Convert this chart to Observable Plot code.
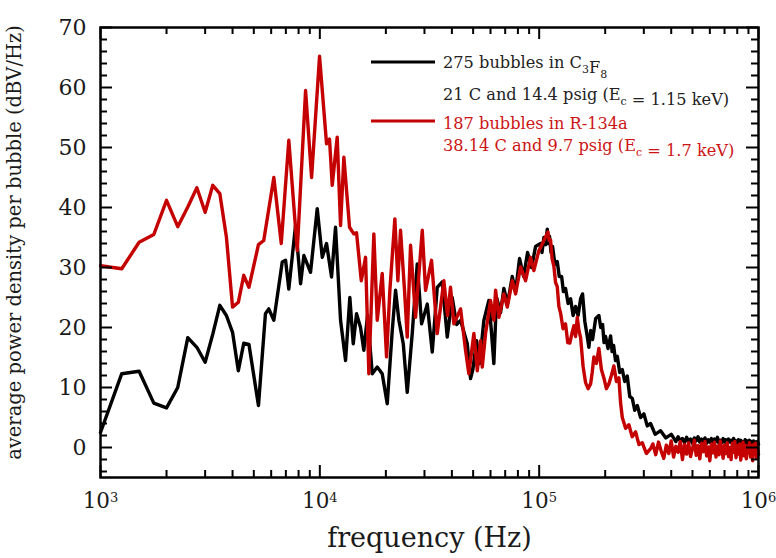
<!DOCTYPE html>
<html>
<head>
<meta charset="utf-8">
<script src="https://cdn.jsdelivr.net/npm/d3@7"></script>
<script src="https://cdn.jsdelivr.net/npm/@observablehq/plot@0.6"></script>
<style>
  html, body { margin: 0; padding: 0; background: #fff; }
  #chart svg { display: block; }
</style>
</head>
<body>
<div id="chart"></div>
<script>
// Average power density per bubble, C3F8 (black)
const c3f8Freq = [
  1000, 1250, 1500, 1750, 2000, 2250, 2500, 2750, 3000, 3250,
  3500, 3750, 4000, 4250, 4500, 4750, 5250, 5650, 5850, 6170,
  6740, 6980, 7220, 7750, 8170, 8460, 9070, 9730, 10260, 10730,
  11310, 11790, 12430, 13100, 13700, 14200, 14700, 15330, 15870, 16500,
  17340, 18270, 19250, 20290, 21390, 22140, 22930, 24010, 25030, 26380,
  27810, 29100, 30890, 32550, 34300, 36150, 38100, 40150, 42020, 43820,
  47000, 48660, 49850, 51830, 53480, 55960, 58970, 60670, 62140, 63930,
  66680, 69040, 71770, 75400, 78060, 81400, 84920, 88540, 92340, 96300,
  101500, 103000, 105100, 107000, 108900, 110200, 111500, 113300, 115100, 118000,
  120900, 123500, 126600, 129000, 131900, 135500, 139100, 142800, 146600, 150500,
  154500, 157700, 161500, 165700, 168500, 171800, 175200, 181000, 187200, 190800,
  194600, 197600, 200800, 206000, 211700, 215000, 218500, 222800, 227100, 233000,
  239300, 245500, 252200, 258800, 265800, 272800, 280200, 290000, 300300, 311000,
  322100, 338000, 357800, 378000, 400000,
  410000, 420000, 430000, 440000, 450000, 460000, 470000, 480000, 490000, 500000,
  510000, 520000, 530000, 540000, 550000, 560000, 570000, 580000, 590000, 600000,
  610000, 620000, 630000, 640000, 650000, 660000, 670000, 680000, 690000, 700000,
  710000, 720000, 730000, 740000, 750000, 760000, 770000, 780000, 790000, 800000,
  810000, 820000, 830000, 840000, 850000, 860000, 870000, 880000, 890000, 900000,
  910000, 920000, 930000, 940000, 950000, 960000, 970000, 980000, 990000, 1000000
];
const c3f8Power = [
  2.5, 12.3, 12.7, 7.4, 6.6, 10.0, 18.3, 16.7, 14.2, 18.9,
  23.7, 22.0, 19.2, 12.8, 17.4, 17.2, 7.0, 22.3, 23.1, 21.2,
  30.9, 31.2, 26.4, 37.0, 27.3, 32.0, 29.2, 39.8, 31.7, 34.0,
  28.4, 36.7, 21.2, 14.5, 25.0, 17.3, 22.3, 20.0, 16.2, 22.0,
  12.3, 13.4, 12.3, 7.3, 19.5, 26.2, 21.2, 17.3, 9.2, 19.0,
  30.6, 20.6, 23.9, 15.9, 26.7, 27.6, 18.4, 25.0, 20.5, 21.2,
  17.3, 11.5, 13.0, 17.8, 14.0, 21.2, 24.5, 19.0, 14.0, 25.0,
  22.5, 26.5, 24.0, 28.5, 26.0, 31.5, 28.5, 32.5, 30.0, 33.5,
  34.0, 32.5, 35.0, 33.8, 36.4, 34.0, 35.2, 32.5, 33.5, 30.5,
  31.0, 28.5, 28.5, 26.0, 26.5, 24.0, 24.8, 22.0, 23.5, 22.0,
  24.8, 25.6, 21.0, 18.5, 16.7, 19.5, 18.0, 21.5, 22.0, 20.0,
  20.5, 17.5, 18.5, 16.5, 18.6, 16.0, 17.0, 14.5, 15.2, 12.5,
  13.0, 11.0, 11.9, 8.5, 8.2, 6.2, 7.0, 5.0, 5.6, 3.6,
  4.0, 2.2, 2.8, 1.6, 2.2,
  1.6, 1.0, 1.8, 1.1, 1.5, 0.8, 1.7, 1.0, 1.4, 0.7,
  1.6, 1.1, 1.8, 0.9, 1.4, 1.0, 1.6, 0.7, 1.3, 0.9,
  1.5, 0.8, 1.4, 1.0, 1.7, 0.7, 1.2, 0.8, 1.5, 0.9,
  1.3, 0.6, 1.4, 0.9, 1.2, 0.6, 1.5, 0.8, 1.1, 0.5,
  1.3, 0.7, 1.2, 0.6, 1.0, 0.4, 1.3, 0.6, 1.1, 0.5,
  1.2, 0.7, 1.0, 0.4, 1.1, 0.6, 0.9, 0.3, 1.0, 0.5
];

// Average power density per bubble, R-134a (red)
const r134aFreq = [
  1000, 1250, 1500, 1750, 2000, 2250, 2500, 2750, 3000, 3250,
  3500, 3750, 4000, 4250, 4500, 4750, 5250, 5550, 6170, 6670,
  7220, 7890, 8610, 9170, 9970, 10730, 11070, 11390, 12000, 12430,
  12870, 13660, 14290, 14700, 15450, 16160, 16730, 17630, 18270, 19250,
  20150, 20860, 21980, 22690, 23330, 24330, 25030, 25920, 27320, 29310,
  30340, 32310, 34300, 36760, 38220, 39440, 40840, 43820, 46170, 47800,
  50390, 52220, 54060, 55030, 56960, 60030, 62140, 63280, 65510, 69040,
  71560, 75400, 78060, 82270, 86700, 91360, 94580, 99680, 105100,
  109600, 111000, 112700, 114500, 116700, 118800, 120900, 123000, 125200, 128500,
  131900, 135000, 138000, 141000, 144000, 146500, 149200, 151800, 154500, 158600,
  162800, 167100, 171600, 174500, 177600, 182300, 187200, 192200, 197300, 202500,
  207900, 213400, 219100, 225000, 230900, 235000, 239300, 247800, 256500, 265500,
  275200, 285000, 295200, 308000, 322100,
  330000, 340000, 350000, 360000, 370000, 380000, 390000, 400000, 410000, 420000,
  430000, 440000, 450000, 460000, 470000, 480000, 490000, 500000, 510000, 520000,
  530000, 540000, 550000, 560000, 570000, 580000, 590000, 600000, 610000, 620000,
  630000, 640000, 650000, 660000, 670000, 680000, 690000, 700000, 710000, 720000,
  730000, 740000, 750000, 760000, 770000, 780000, 790000, 800000, 810000, 820000,
  830000, 840000, 850000, 860000, 870000, 880000, 890000, 900000, 910000, 920000,
  930000, 940000, 950000, 960000, 970000, 980000, 990000, 1000000
];
const r134aPower = [
  30.3, 29.8, 34.2, 35.5, 41.2, 36.8, 40.1, 43.3, 39.2, 43.7,
  42.3, 35.1, 23.4, 24.2, 28.7, 26.7, 33.8, 34.5, 45.0, 34.0,
  51.2, 32.8, 59.5, 45.0, 65.2, 50.6, 51.4, 43.7, 51.7, 37.0,
  48.4, 36.7, 35.6, 35.8, 27.8, 31.7, 12.3, 35.6, 21.2, 29.0,
  15.1, 26.2, 38.1, 27.8, 36.2, 26.2, 18.4, 33.7, 21.7, 36.2,
  26.2, 31.2, 19.0, 27.8, 22.0, 26.7, 20.6, 23.1, 16.2, 12.3,
  19.0, 12.8, 17.8, 13.4, 19.0, 24.5, 21.2, 26.2, 21.7, 25.6,
  23.4, 27.8, 25.6, 30.1, 27.8, 31.7, 29.5, 32.8, 34.5,
  35.9, 34.5, 34.6, 31.5, 30.2, 27.5, 26.8, 23.5, 22.4, 19.8,
  20.6, 17.5, 17.4, 19.0, 20.3, 18.5, 21.7, 19.5, 18.3, 13.5,
  10.8, 9.8, 10.6, 12.5, 15.1, 14.0, 16.5, 13.0, 11.6, 9.8,
  10.6, 12.0, 13.6, 11.0, 11.6, 7.5, 5.0, 3.2, 3.8, 1.8,
  2.6, 0.5, 0.8, -1.0, -0.2,
  0.6, -1.2, 0.9, -0.6, -1.8, 0.4, -1.0, 1.1, -1.6, 0.2,
  -0.8, 1.0, -2.0, 0.5, -1.1, 0.8, -1.5, -0.2, 1.2, -1.3,
  0.3, -1.9, 0.7, -0.7, 1.0, -1.4, 0.1, -2.2, 0.6, -0.9,
  0.9, -1.6, 0.2, -1.2, 1.1, -0.5, -1.8, 0.4, -1.0, 0.8,
  -1.5, 0.0, -2.0, 0.7, -0.8, 1.0, -1.7, 0.3, -1.1, 0.6,
  -2.1, -0.1, 0.9, -1.4, 0.4, -1.9, 0.2, -0.9, 0.8, -1.6,
  0.3, -2.2, 0.5, -1.0, 0.7, -1.8, 0.1, -1.2
];

// Axis ticks
const xMajorTicks = [1e3, 1e4, 1e5, 1e6];
const xMinorTicks = [
  2e3, 3e3, 4e3, 5e3, 6e3, 7e3, 8e3, 9e3,
  2e4, 3e4, 4e4, 5e4, 6e4, 7e4, 8e4, 9e4,
  2e5, 3e5, 4e5, 5e5, 6e5, 7e5, 8e5, 9e5
];
const yMajorTicks = [0, 10, 20, 30, 40, 50, 60, 70];
const yMinorTicks = [
  -4, -2, 2, 4, 6, 8, 12, 14, 16, 18, 22, 24, 26, 28, 32, 34, 36, 38,
  42, 44, 46, 48, 52, 54, 56, 58, 62, 64, 66, 68
];

const c3f8 = c3f8Freq.map((f, i) => ({f, p: c3f8Power[i]}));
const r134a = r134aFreq.map((f, i) => ({f, p: r134aPower[i]}));

const W = 776, H = 558;
const mL = 100, mR = 18, mT = 27, mB = 81;
const innerW = W - mL - mR, innerH = H - mT - mB;
const majorLen = 12, minorLen = 7;
const FONT = "'DejaVu Serif', 'Liberation Serif', serif";
const RED = "#c40000";

const tickStyle = {stroke: "#000", strokeWidth: 2};

const chart = Plot.plot({
  width: W, height: H,
  marginLeft: mL, marginRight: mR, marginTop: mT, marginBottom: mB,
  style: {fontFamily: FONT, background: "#fff", color: "#000"},
  x: {type: "log", domain: [1e3, 1e6]},
  y: {domain: [-5, 70]},
  marks: [
    Plot.line(c3f8, {x: "f", y: "p", stroke: "#000", strokeWidth: 3.4, strokeLinejoin: "round"}),
    Plot.line(r134a, {x: "f", y: "p", stroke: RED, strokeWidth: 3.4, strokeLinejoin: "round"}),

    // inward ticks on all four sides
    Plot.tickX(xMajorTicks, {x: d => d, insetTop: innerH - majorLen, ...tickStyle}),
    Plot.tickX(xMajorTicks, {x: d => d, insetBottom: innerH - majorLen, ...tickStyle}),
    Plot.tickX(xMinorTicks, {x: d => d, insetTop: innerH - minorLen, ...tickStyle}),
    Plot.tickX(xMinorTicks, {x: d => d, insetBottom: innerH - minorLen, ...tickStyle}),
    Plot.tickY(yMajorTicks, {y: d => d, insetRight: innerW - majorLen, ...tickStyle}),
    Plot.tickY(yMajorTicks, {y: d => d, insetLeft: innerW - majorLen, ...tickStyle}),
    Plot.tickY(yMinorTicks, {y: d => d, insetRight: innerW - minorLen, ...tickStyle}),
    Plot.tickY(yMinorTicks, {y: d => d, insetLeft: innerW - minorLen, ...tickStyle}),
    Plot.frame({stroke: "#000", strokeWidth: 2.5}),

    // tick labels (powers of ten get a raised exponent below)
    Plot.axisX(xMajorTicks, {
      tickSize: 0, tickPadding: 15, fontSize: 21.5, label: null, fill: "#1a1a1a",
      tickFormat: d => String(Math.round(Math.log10(d)))
    }),
    Plot.axisY(yMajorTicks, {
      tickSize: 0, tickPadding: 14, fontSize: 22, label: null, fill: "#1a1a1a"
    }),

    // axis titles
    Plot.text(["frequency (Hz)"], {
      frameAnchor: "bottom", dy: 61, lineAnchor: "middle", fontSize: 27, fill: "#1a1a1a"
    }),
    Plot.text(["average power density per bubble (dBV/Hz)"], {
      frameAnchor: "left", dx: -86, dy: -10, rotate: -90, lineAnchor: "middle",
      textAnchor: "middle", fontSize: 19.5, fill: "#1a1a1a"
    })
  ]
});

const svg = d3.select(chart);

// x tick labels: "10" with the exponent as a superscript
svg.selectAll('g[aria-label="x-axis tick label"] text').each(function () {
  const exp = this.textContent;
  const t = d3.select(this).text(null);
  t.append("tspan").text("10");
  t.append("tspan").attr("dy", "-0.45em").attr("font-size", 13).text(exp);
});

// legend
const legendItems = [
  {color: "#000", text: "#222", y: 62, lines: [
    [["275 bubbles in C"], ["3", "sub"], ["F"], ["8", "sub"]],
    [["21 C and 14.4 psig (E"], ["c", "sub"], [" = 1.15 keV)"]]
  ]},
  {color: RED, text: "#cc1414", y: 121, lines: [
    [["187 bubbles in R-134a"]],
    [["38.14 C and 9.7 psig (E"], ["c", "sub"], [" = 1.7 keV)"]]
  ]}
];
const lineOffsets = [[6, 38], [8, 30]];

const legend = svg.append("g")
  .attr("font-family", FONT)
  .attr("font-size", 16.2)
  .attr("text-anchor", "start");
legendItems.forEach((item, k) => {
  legend.append("line")
    .attr("x1", 371).attr("x2", 435)
    .attr("y1", item.y).attr("y2", item.y)
    .attr("stroke", item.color).attr("stroke-width", 3);
  item.lines.forEach((parts, j) => {
    const t = legend.append("text")
      .attr("x", 443)
      .attr("y", item.y + lineOffsets[k][j])
      .attr("fill", item.text);
    parts.forEach(([s, kind]) => {
      if (kind === "sub") {
        t.append("tspan").attr("dy", 5).attr("font-size", 11).text(s);
        t.append("tspan").attr("dy", -5).text("");
      } else {
        t.append("tspan").text(s);
      }
    });
  });
});

document.getElementById("chart").append(chart);
</script>
</body>
</html>
